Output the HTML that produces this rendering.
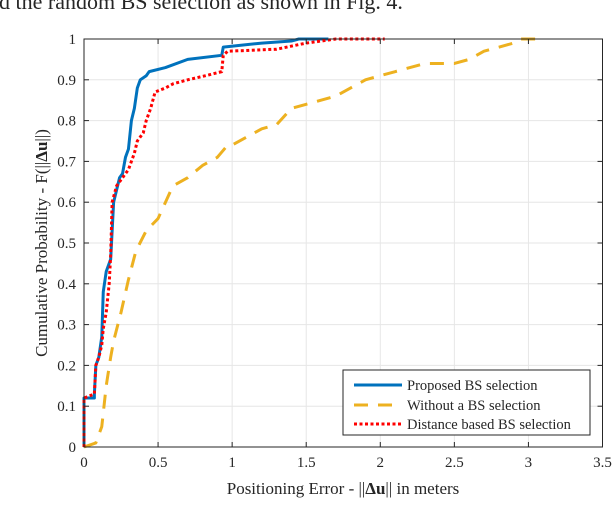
<!DOCTYPE html>
<html><head><meta charset="utf-8"><style>
body{margin:0;background:#fff;width:612px;height:500px;overflow:hidden}
svg text{font-family:"Liberation Serif",serif;fill:#262626}
</style></head><body>
<svg id="chart" width="612" height="500" xmlns="http://www.w3.org/2000/svg">
<text x="-1" y="9" font-size="22" fill="#000">d the random BS selection as shown in Fig. 4.</text>
<g id="grid"></g>
<g id="series"></g>
<rect x="84" y="39" width="518.5" height="408" fill="none" stroke="#262626" stroke-width="1"/>
<g id="ticks"></g>
<text x="343" y="494" font-size="17" text-anchor="middle">Positioning Error - ||<tspan font-weight="bold">Δu</tspan>|| in meters</text>
<text transform="translate(47,243) rotate(-90)" font-size="17" text-anchor="middle">Cumulative Probability - F(||<tspan font-weight="bold">Δu</tspan>||)</text>
<g>
<rect x="343" y="370" width="247" height="65" fill="#fff" stroke="#262626" stroke-width="1"/>
<line x1="354" y1="385" x2="402" y2="385" stroke="#0072BD" stroke-width="3"/>
<text x="407" y="390" font-size="14.5">Proposed BS selection</text>
<line x1="354" y1="405" x2="402" y2="405" stroke="#EDB120" stroke-width="3" stroke-dasharray="14,10"/>
<text x="407" y="410" font-size="14.5">Without a BS selection</text>
<line x1="354" y1="424" x2="402" y2="424" stroke="#FF0000" stroke-width="3" stroke-dasharray="3,2.5"/>
<text x="407" y="429" font-size="14.5">Distance based BS selection</text>
</g>
</svg>
<script>
const xTicks=[0,0.5,1,1.5,2,2.5,3,3.5];
const xTickLabels=["0","0.5","1","1.5","2","2.5","3","3.5"];
const yTicks=[0,0.1,0.2,0.3,0.4,0.5,0.6,0.7,0.8,0.9,1];
const yTickLabels=["0","0.1","0.2","0.3","0.4","0.5","0.6","0.7","0.8","0.9","1"];
const proposedX=[0,0,0.07,0.07,0.08,0.1,0.12,0.13,0.15,0.18,0.2,0.22,0.24,0.26,0.28,0.3,0.32,0.34,0.36,0.38,0.42,0.44,0.55,0.7,0.93,0.94,1.2,1.4,1.45,1.65];
const proposedY=[0,0.12,0.12,0.13,0.2,0.22,0.27,0.38,0.43,0.46,0.6,0.63,0.66,0.67,0.71,0.73,0.8,0.83,0.88,0.9,0.91,0.92,0.93,0.95,0.96,0.98,0.99,0.995,1,1];
const distanceX=[0,0,0.07,0.08,0.1,0.12,0.13,0.15,0.17,0.18,0.19,0.22,0.26,0.3,0.34,0.36,0.4,0.42,0.45,0.48,0.55,0.6,0.7,0.82,0.93,0.94,0.97,1.3,1.5,1.6,1.7,2.03];
const distanceY=[0,0.12,0.13,0.2,0.22,0.25,0.29,0.33,0.4,0.47,0.6,0.64,0.66,0.68,0.72,0.75,0.77,0.8,0.83,0.87,0.88,0.89,0.9,0.91,0.92,0.96,0.97,0.975,0.99,0.995,1,1];
const withoutX=[0,0.08,0.12,0.15,0.18,0.2,0.25,0.3,0.35,0.42,0.5,0.55,0.6,0.7,0.8,0.9,0.97,1.0,1.1,1.2,1.3,1.4,1.5,1.6,1.7,1.8,1.9,2.0,2.1,2.2,2.3,2.5,2.6,2.7,2.8,2.9,2.95,3.05];
const withoutY=[0,0.01,0.05,0.15,0.22,0.26,0.33,0.41,0.48,0.53,0.56,0.6,0.64,0.66,0.69,0.71,0.74,0.74,0.76,0.78,0.79,0.83,0.84,0.85,0.86,0.88,0.9,0.91,0.92,0.93,0.94,0.94,0.95,0.97,0.98,0.99,1,1];
const NS="http://www.w3.org/2000/svg";
const X0=84,X1=602.5,Y0=447,Y1=39;
function sx(v){return X0+(v-0)/(3.5-0)*(X1-X0);}
function sy(v){return Y0-(v-0)/(1-0)*(Y0-Y1);}
const grid=document.getElementById('grid'),ticks=document.getElementById('ticks'),series=document.getElementById('series');
function mk(t,a,p){const e=document.createElementNS(NS,t);for(const k in a)e.setAttribute(k,a[k]);p.appendChild(e);return e;}
xTicks.forEach((v,i)=>{
 const g=mk('line',{x1:sx(v),x2:sx(v),y1:Y0,y2:Y1,stroke:'#e6e6e6','stroke-width':1},grid);
 
 
 const t1=mk('line',{x1:sx(v),x2:sx(v),y1:Y0,y2:Y0-5,stroke:'#262626'},ticks);
 
 
 const t2=mk('line',{x1:sx(v),x2:sx(v),y1:Y1,y2:Y1+5,stroke:'#262626'},ticks);
 
 
 const l=mk('text',{x:sx(v),y:Y0+20,'font-size':15,'text-anchor':'middle'},ticks);l.textContent=xTickLabels[i];
 
 
});
yTicks.forEach((v,i)=>{
 const g=mk('line',{x1:X0,x2:X1,y1:sy(v),y2:sy(v),stroke:'#e6e6e6','stroke-width':1},grid);
 
 
 const t1=mk('line',{x1:X0,x2:X0+5,y1:sy(v),y2:sy(v),stroke:'#262626'},ticks);
 
 
 const t2=mk('line',{x1:X1,x2:X1-5,y1:sy(v),y2:sy(v),stroke:'#262626'},ticks);
 
 
 const l=mk('text',{x:X0-8,y:sy(v)+5,'font-size':15,'text-anchor':'end'},ticks);l.textContent=yTickLabels[i];
 
 
});
function line(xs,ys,color,dash){
 const p=mk('polyline',{points:xs.map((x,i)=>sx(x)+','+sy(ys[i])).join(' '),fill:'none',stroke:color,'stroke-width':3,'stroke-dasharray':dash,'stroke-linejoin':'round'},series);
 return p;
}
const a=line(withoutX,withoutY,'#EDB120','14,10');


const b=line(proposedX,proposedY,'#0072BD','none');


const c=line(distanceX,distanceY,'#FF0000','3,2.5');


</script>
</body></html>
